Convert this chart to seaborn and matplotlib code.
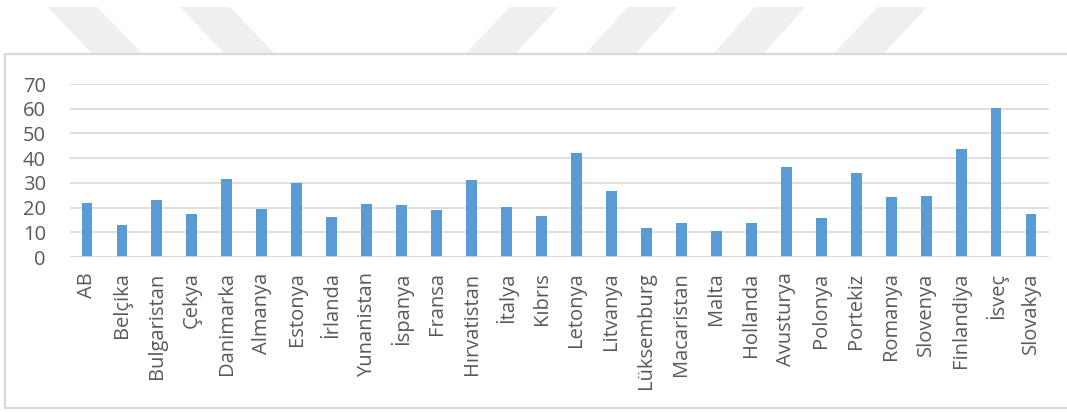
import matplotlib
matplotlib.use("Agg")
import matplotlib.pyplot as plt
from matplotlib.patches import Polygon, Rectangle
import seaborn as sns
import pandas as pd

# Country labels and values
countries = [
    "AB", "Belçika", "Bulgaristan", "Çekya", "Danimarka", "Almanya", "Estonya",
    "İrlanda", "Yunanistan", "İspanya", "Fransa", "Hırvatistan", "İtalya", "Kıbrıs",
    "Letonya", "Litvanya", "Lüksemburg", "Macaristan", "Malta", "Hollanda",
    "Avusturya", "Polonya", "Portekiz", "Romanya", "Slovenya", "Finlandiya",
    "İsveç", "Slovakya",
]
values = [
    22.1, 12.9, 23.2, 17.3, 31.6, 19.3, 30.1,
    16.2, 21.7, 21.2, 19.1, 31.0, 20.4, 16.8,
    42.1, 26.7, 11.6, 13.8, 10.6, 13.9,
    36.4, 16.0, 34.0, 24.4, 24.9, 43.7,
    60.1, 17.3,
]
y_ticks = [0, 10, 20, 30, 40, 50, 60, 70]

df = pd.DataFrame({"country": countries, "value": values})

sns.set_theme(style="white")
plt.rcParams["font.family"] = ["Open Sans", "DejaVu Sans"]

W, H = 1067, 412
fig = plt.figure(figsize=(W / 100, H / 100), dpi=100)
fig.patch.set_facecolor("white")

# Faint diagonal band pattern along the top edge of the page
def band(x_top0, x_top1, x_bot0, x_bot1, y_top=7, y_bot=54):
    pts = [(x_top0, y_top), (x_top1, y_top), (x_bot1, y_bot), (x_bot0, y_bot)]
    pts = [(x / W, 1 - y / H) for x, y in pts]
    fig.patches.append(Polygon(pts, closed=True, transform=fig.transFigure,
                               facecolor="#efefef", edgecolor="none", zorder=0))

band(48, 97, 92, 143)
band(180, 230, 225, 275)
band(510, 558, 465, 515)
band(628, 677, 585, 635)
band(755, 805, 713, 763)
band(878, 927, 833, 883)

# Chart frame
fig.patches.append(Rectangle((5 / W, 1 - 408 / H), (W + 10 - 5) / W, (408 - 54) / H,
                             transform=fig.transFigure, facecolor="white",
                             edgecolor="#d9d9d9", linewidth=1.6, zorder=1))

ax = fig.add_axes([69.5 / W, 1 - 257.2 / H, (1048.5 - 69.5) / W, (257.2 - 84.0) / H])
ax.set_facecolor("none")
ax.set_zorder(2)

sns.barplot(data=df, x="country", y="value", color="#5B9BD5", width=0.31,
            saturation=1, edgecolor="none", ax=ax)

ax.set_ylim(0, 70)
ax.set_xlim(-0.5, len(countries) - 0.5)
ax.set_yticks(y_ticks)
ax.set_yticklabels([str(t) for t in y_ticks])
ax.yaxis.grid(True, color="#d9d9d9", linewidth=1.2)
ax.set_axisbelow(True)
for s in ax.spines.values():
    s.set_visible(False)
ax.axhline(0, color="#d9d9d9", linewidth=1.2, zorder=1)
ax.set_xlabel("")
ax.set_ylabel("")
ax.tick_params(axis="both", length=0, colors="#595959")
ax.tick_params(axis="y", pad=17, labelsize=14.5)
ax.tick_params(axis="x", pad=11, labelsize=14.5)
plt.setp(ax.get_xticklabels(), rotation=90, rotation_mode="anchor",
         ha="right", va="center")

fig.savefig("out.png", dpi=100, facecolor="white")
